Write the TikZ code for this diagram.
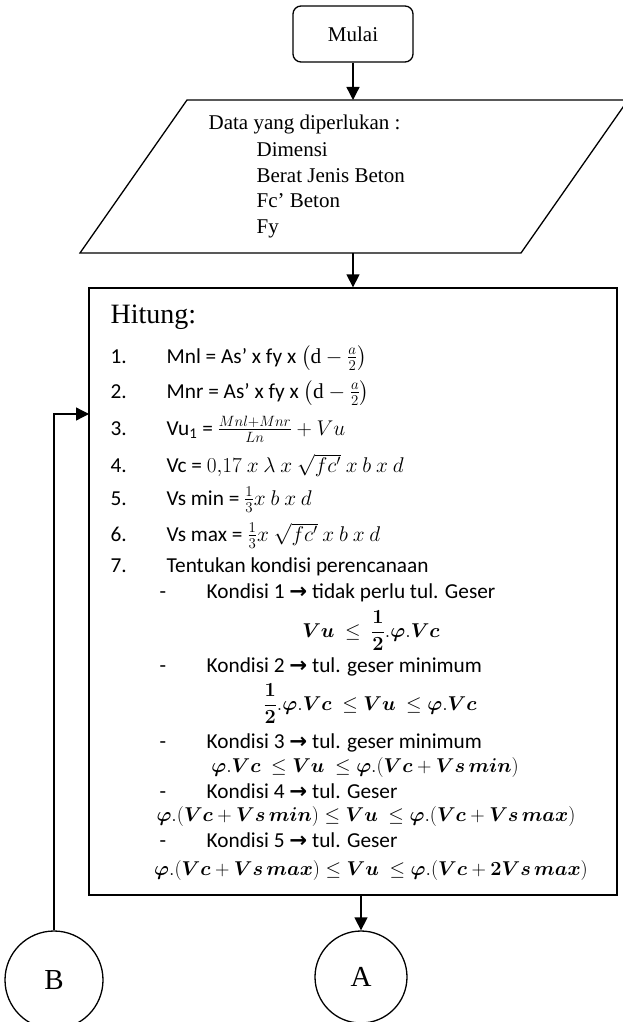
\RequirePackage{fix-cm}
\documentclass[tikz,border=0pt]{standalone}
\usepackage{amsmath}
\usepackage{bm}
\usepackage{fontspec}
\setmainfont{Liberation Serif}
\newfontfamily\calib{Carlito}
\newfontfamily\djv{DejaVu Sans}
\newcommand\rarr{{\djv\bfseries →}}
\usetikzlibrary{arrows.meta,calc}
\begin{document}
\begin{tikzpicture}[x=1pt,y=-1pt, line width=1.3pt,
  arr/.style={-{Triangle[length=13pt,width=13pt]}},
  ser/.style={font=\fontsize{21}{25}\selectfont, inner sep=0pt, anchor=base west},
  cal/.style={font=\calib\fontsize{21.3}{25}\selectfont, inner sep=0pt, anchor=base west},
  frm/.style={font=\fontsize{20}{24}\selectfont, inner sep=0pt, anchor=base},
  conn/.style={draw, circle, inner sep=0pt, font=\fontsize{29}{30}\selectfont},
]
\useasboundingbox (0,0) rectangle (622,1022);
% start
\node[draw, rounded corners=8pt, minimum width=120pt, minimum height=56pt, inner sep=0pt,
  font=\fontsize{21}{25}\selectfont] (mulai) at (353,34) {Mulai};
% data parallelogram
\draw (80,253) -- (187,100) -- (628,100) -- (521,253) -- cycle;
\coordinate (dtop) at (353,100);
\coordinate (dbot) at (353,253);
\node[ser] (d0) at (208,130) {Data yang diperlukan :};
\node[ser] (d1) at (256,156) {Dimensi};
\node[ser] (d2) at (256,182) {Berat Jenis Beton};
\node[ser] (d3) at (256,207) {Fc’ Beton};
\node[ser] (d4) at (256,233) {Fy};
% process box
\node[draw, minimum width=528pt, minimum height=607pt, inner sep=0pt] (hit) at (353,591.5) {};
\node[font=\fontsize{28}{30}\selectfont, inner sep=0pt, anchor=base west] (hitung) at (110,323) {Hitung:};
\node[cal] (n1) at (110,363) {1.};
\node[cal] (t1) at (166,363) {Mnl = As’ x fy x $\left(\mathrm{d}-\frac{a}{2}\right)$};
\node[cal] (n2) at (110,398) {2.};
\node[cal] (t2) at (166,398) {Mnr = As’ x fy x $\left(\mathrm{d}-\frac{a}{2}\right)$};
\node[cal] (n3) at (110,435) {3.};
\node[cal] (t3) at (166,435) {Vu\textsubscript{1} = $\frac{Mnl+Mnr}{Ln}+Vu$};
\node[cal] (n4) at (110,472) {4.};
\node[cal] (t4) at (166,472) {Vc = $0{,}17\ x\ \lambda\ x\ \sqrt{fc'}\ x\ b\ x\ d$};
\node[cal] (n5) at (110,505) {5.};
\node[cal] (t5) at (166,505) {Vs min = $\frac{1}{3}x\ b\ x\ d$};
\node[cal] (n6) at (110,541) {6.};
\node[cal] (t6) at (166,541) {Vs max = $\frac{1}{3}x\ \sqrt{fc'}\ x\ b\ x\ d$};
\node[cal] (n7) at (110,572) {7.};
\node[cal] (t7) at (166,572) {Tentukan kondisi perencanaan};
\node[cal] (h1) at (159,598) {-};
\node[cal] (k1) at (206,598) {Kondisi 1 \rarr{} tidak perlu tul. Geser};
\node[frm] (f1) at (371,637) {$\bm{Vu}\ \le\ \dfrac{\bm{1}}{\bm{2}}.\bm{\varphi}.\bm{Vc}$};
\node[cal] (h2) at (159,672) {-};
\node[cal] (k2) at (206,672) {Kondisi 2 \rarr{} tul. geser minimum};
\node[frm] (f2) at (370,710) {$\dfrac{\bm{1}}{\bm{2}}.\bm{\varphi}.\bm{Vc}\ \le\bm{Vu}\ \le\bm{\varphi}.\bm{Vc}$};
\node[cal] (h3) at (159,748) {-};
\node[cal] (k3) at (206,748) {Kondisi 3 \rarr{} tul. geser minimum};
\node[frm] (f3) at (365,772) {$\bm{\varphi}.\bm{Vc}\ \le\bm{Vu}\ \le\bm{\varphi}.(\bm{Vc}+\bm{Vs\,min})$};
\node[cal] (h4) at (159,798) {-};
\node[cal] (k4) at (206,798) {Kondisi 4 \rarr{} tul. Geser};
\node[frm] (f4) at (366,821) {$\bm{\varphi}.(\bm{Vc}+\bm{Vs\,min})\le\bm{Vu}\ \le\bm{\varphi}.(\bm{Vc}+\bm{Vs\,max})$};
\node[cal] (h5) at (159,847) {-};
\node[cal] (k5) at (206,847) {Kondisi 5 \rarr{} tul. Geser};
\node[frm] (f5) at (371,875) {$\bm{\varphi}.(\bm{Vc}+\bm{Vs\,max})\le\bm{Vu}\ \le\bm{\varphi}.(\bm{Vc}+\bm{2Vs\,max})$};
% connectors
\node[conn, minimum size=98pt] (B) at (54,980) {B};
\node[conn, minimum size=92pt] (A) at (361,977) {A};
\coordinate (bin) at (89,414);
\draw[arr] (mulai) -- (dtop);
\draw[arr] (dbot) -- (hit.north);
\draw[arr] (A.north |- hit.south) -- (A.north);
\draw[arr] (B.north) |- (bin);
\end{tikzpicture}
\end{document}
